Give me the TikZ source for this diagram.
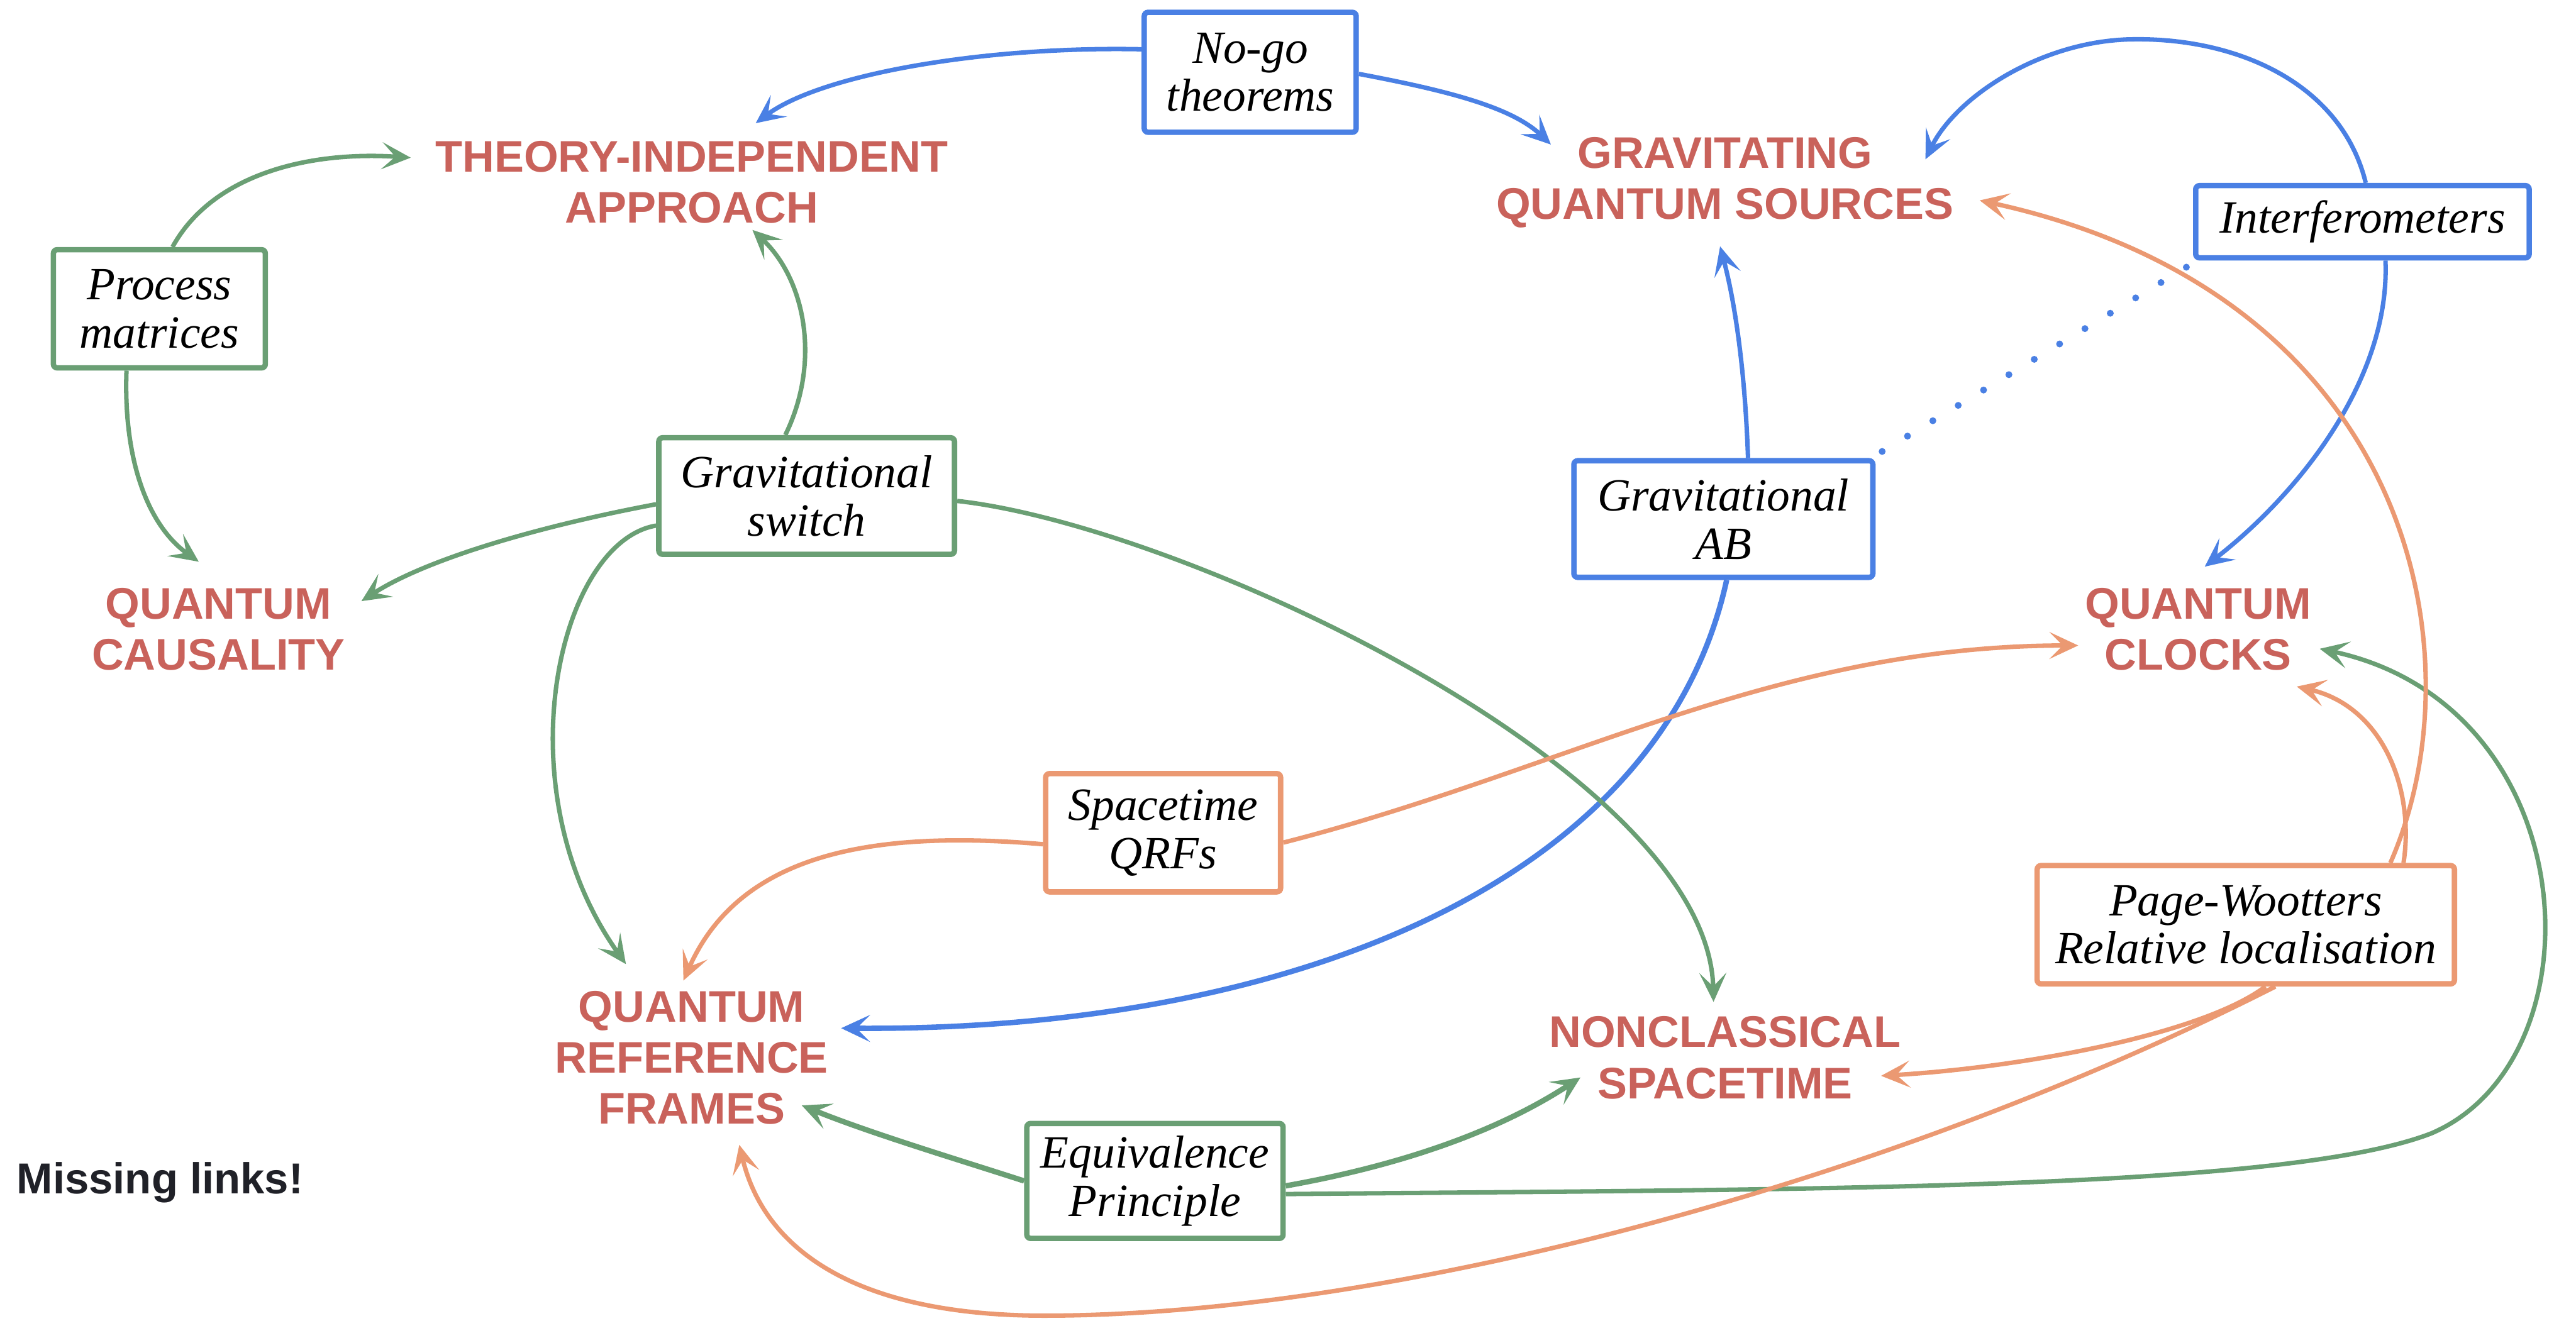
\documentclass[tikz,border=0pt]{standalone}
\usepackage{fontspec}
\setmainfont{Liberation Serif}
\newfontfamily\hfont{Liberation Sans}
\usetikzlibrary{arrows.meta,calc}
\definecolor{cblue}{RGB}{74,128,228}
\definecolor{cgreen}{RGB}{106,159,116}
\definecolor{corange}{RGB}{235,153,114}
\definecolor{cred}{RGB}{201,98,91}
\definecolor{cdark}{RGB}{32,33,40}
\tikzset{
  title/.style={text=cred, font=\hfont\bfseries\fontsize{23}{26.5}\selectfont, align=center, inner sep=0pt},
  box/.style={draw, line width=2.8pt, fill=white, rounded corners=2pt, align=center, inner sep=0pt,
    font=\itshape\fontsize{24}{25}\selectfont},
  conn/.style={line width=2.3pt, -{Stealth[length=15pt,width=14pt,inset=7pt]}},
  bl/.style={conn, color=cblue},
  gr/.style={conn, color=cgreen},
  og/.style={conn, color=corange},
}
\begin{document}
\begin{tikzpicture}[x=0.03cm,y=-0.03cm]
\useasboundingbox (0,0) rectangle (1568,804);
% titles
\node[title] (tia) at (421,111) {THEORY-INDEPENDENT\\APPROACH};
\node[title] (gqs) at (1050,111) {GRAVITATING\\QUANTUM SOURCES};
\node[title] (qca) at (133,383) {QUANTUM\\CAUSALITY};
\node[title] (qcl) at (1338,383) {QUANTUM\\CLOCKS};
\node[title] (qrf) at (421,644) {QUANTUM\\REFERENCE\\FRAMES};
\node[title] (ncs) at (1050,644) {NONCLASSICAL\\SPACETIME};
\node[text=cdark, font=\hfont\bfseries\fontsize{22.5}{26}\selectfont, anchor=west, inner sep=0pt] (miss) at (10,720) {Missing links!};
% boxes
\node[box, draw=cblue, minimum width=3.87cm, minimum height=2.19cm] (nogo) at (761,44) {No-go\\theorems};
\node[box, draw=cgreen, minimum width=3.87cm, minimum height=2.16cm] (proc) at (97,188) {Process\\matrices};
\node[box, draw=cgreen, minimum width=5.4cm, minimum height=2.13cm] (gsw) at (491,302) {Gravitational\\switch};
\node[box, draw=cblue, minimum width=6.09cm, minimum height=1.32cm] (intf) at (1438,135) {Interferometers};
\node[box, draw=cblue, minimum width=5.46cm, minimum height=2.13cm] (gab) at (1049,316) {Gravitational\\AB};
\node[box, draw=corange, minimum width=4.29cm, minimum height=2.16cm] (sqrf) at (708,507) {Spacetime\\QRFs};
\node[box, draw=corange, minimum width=7.62cm, minimum height=2.16cm] (pw) at (1367,563) {Page-Wootters\\Relative localisation};
\node[box, draw=cgreen, minimum width=4.68cm, minimum height=2.1cm] (eqp) at (703,719) {Equivalence\\Principle};
% blue connectors
\draw[bl] ($(nogo.west)+(0,-14)$) .. controls (600,28) and (500,45) .. (460,75);
\draw[bl] ($(nogo.east)+(0,1)$) .. controls (880,55) and (920,65) .. (944,88);
\draw[bl] ($(intf.north)+(2,0)$) .. controls (1425,50) and (1360,22) .. (1295,24) .. controls (1240,26) and (1190,60) .. (1172,97);
\draw[bl] ($(intf.south)+(14,0)$) .. controls (1455,230) and (1400,300) .. (1342,345);
\draw[bl] ($(gab.north)+(15,0)$) .. controls (1062,220) and (1055,180) .. (1047,150);
\draw[bl, line width=2.8pt] ($(gab.south)+(2,0)$) .. controls (1010,540) and (780,628) .. (512,626);
\draw[cblue, line width=3.6pt, line cap=round, dash pattern=on 0pt off 15.4pt] ($(gab.north east)+(4,-4)$) -- ($(intf.south west)+(-4,4)$);
% green connectors
\draw[gr] ($(proc.north)+(8,0)$) .. controls (130,105) and (190,92) .. (250,96);
\draw[gr] ($(proc.south)+(-20,0)$) .. controls (75,280) and (90,320) .. (121,342);
\draw[gr] ($(gsw.north)+(-13,0)$) .. controls (500,220) and (490,170) .. (458,140);
\draw[gr] ($(gsw.west)+(0,5)$) .. controls (330,320) and (260,340) .. (220,366);
\draw[gr] ($(gsw.west)+(0,18)$) .. controls (340,330) and (305,480) .. (381,587);
\draw[gr] ($(gsw.east)+(0,3)$) .. controls (720,320) and (1040,470) .. (1043,610);
\draw[gr, line width=2.8pt] (eqp.west) .. controls (580,705) and (530,690) .. (488,673);
\draw[gr, line width=2.8pt] ($(eqp.east)+(0,3)$) .. controls (850,710) and (910,690) .. (962,656);
\draw[gr] ($(eqp.east)+(0,8)$) .. controls (1100,724) and (1390,725) .. (1480,690) .. controls (1585,645) and (1575,430) .. (1412,395);
% orange connectors
\draw[og] ($(sqrf.east)+(0,6)$) .. controls (950,470) and (1080,393) .. (1265,393);
\draw[og] ($(sqrf.west)+(0,7)$) .. controls (530,505) and (450,520) .. (416,597);
\draw[og] ($(pw.north)+(88,0)$) .. controls (1510,400) and (1470,180) .. (1205,122);
\draw[og] ($(pw.north)+(96,0)$) .. controls (1470,480) and (1450,430) .. (1398,418);
\draw[og] ($(pw.south)+(12,0)$) .. controls (1340,630) and (1230,650) .. (1145,655);
\draw[og] ($(pw.south)+(18,0)$) .. controls (1150,720) and (850,800) .. (640,801) .. controls (520,802) and (465,760) .. (450,697);
\end{tikzpicture}
\end{document}
